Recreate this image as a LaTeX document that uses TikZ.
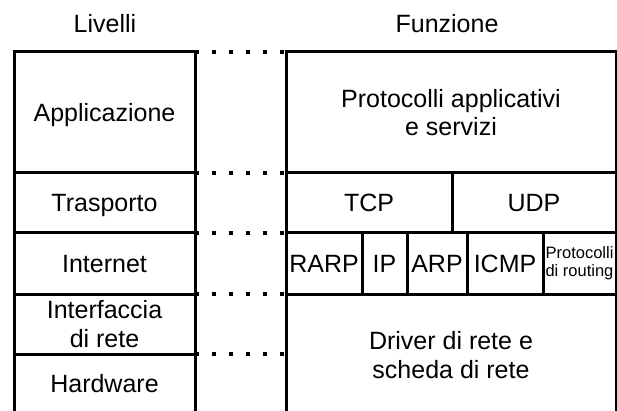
\documentclass[tikz,border=0pt]{standalone}
\usepackage{fontspec}
\setmainfont{Liberation Sans}
\begin{document}
\begin{tikzpicture}[x=1pt,y=-1pt,
  cell/.style={draw, line width=3pt, inner sep=0pt, outer sep=0pt, align=center,
    font=\fontsize{25}{28.5}\selectfont},
  oneline/.style={text height=17.9pt, text depth=0pt},
  small/.style={font=\fontsize{16.5}{18}\selectfont},
  title/.style={inner sep=0pt, font=\fontsize{25}{28.5}\selectfont},
  dotline/.style={line width=3.5pt, dash pattern=on 3.5pt off 13.5pt}]
\clip (0,0) rectangle (617,411);
\fill[white] (0,0) rectangle (617,411);
% titles
\node[title] (tliv) at (105,24) {Livelli};
\node[title] (tfun) at (447,23.5) {Funzione};
% left column
\node[cell, oneline, minimum width=181, minimum height=121] (app) at (104.5,112.5) {Applicazione};
\node[cell, oneline, minimum width=181, minimum height=60] (tra) at (104.5,203) {Trasporto};
\node[cell, oneline, minimum width=181, minimum height=61] (int) at (104.5,263.5) {Internet};
\node[cell, minimum width=181, minimum height=60] (ifr) at (104.5,324) {Interfaccia\\di rete};
\node[cell, oneline, minimum width=181, minimum height=60] (hw) at (104.5,384) {Hardware};
% right column
\node[cell, minimum width=330, minimum height=121] (proto) at (451,112.5) {Protocolli applicativi\\e servizi};
\node[cell, oneline, minimum width=166, minimum height=60] (tcp) at (369,203) {TCP};
\node[cell, oneline, minimum width=164, minimum height=60] (udp) at (534,203) {UDP};
\node[cell, oneline, minimum width=76, minimum height=61] (rarp) at (324,263.5) {RARP};
\node[cell, oneline, minimum width=45, minimum height=61] (ip) at (384.5,263.5) {IP};
\node[cell, oneline, minimum width=60, minimum height=61] (arp) at (437,263.5) {ARP};
\node[cell, oneline, minimum width=76, minimum height=61] (icmp) at (505,263.5) {ICMP};
\node[cell, small, minimum width=73, minimum height=61] (rout) at (579.5,263.5) {Protocolli\\di routing};
\node[cell, minimum width=330, minimum height=122] (drv) at (451,355) {Driver di rete e\\scheda di rete};
% dotted correspondences
\draw[dotline] (app.north east) -- (proto.north west);
\draw[dotline] (app.south east) -- (proto.south west);
\draw[dotline] (tra.south east) -- (rarp.north west);
\draw[dotline] (int.south east) -- (drv.north west);
\draw[dotline] (ifr.south east) -- (ifr.south east -| drv.west);
\end{tikzpicture}
\end{document}
